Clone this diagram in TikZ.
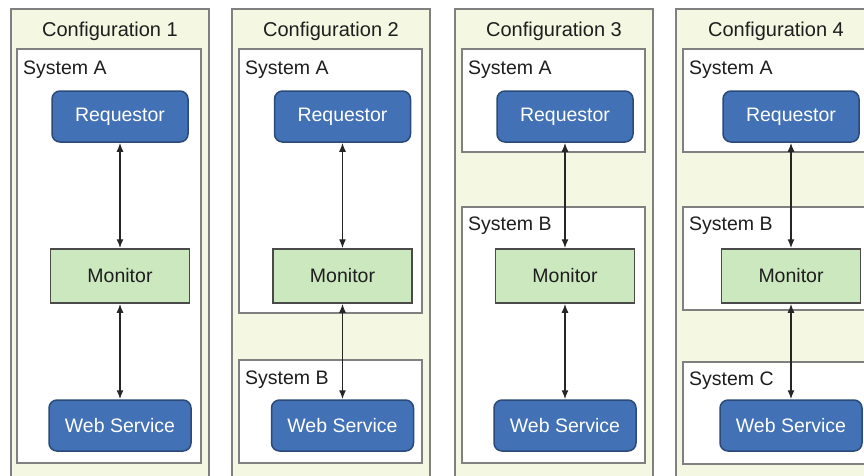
\documentclass[tikz,border=0pt]{standalone}
\usepackage{fontspec}
\setmainfont{Liberation Sans}
\usetikzlibrary{arrows.meta}
\definecolor{panelfill}{HTML}{F4F7E1}
\definecolor{framegray}{HTML}{808080}
\definecolor{reqblue}{HTML}{4271B6}
\definecolor{reqedge}{HTML}{2B4A78}
\definecolor{monfill}{HTML}{CBE8BF}
\definecolor{monedge}{HTML}{4A4A4A}
\definecolor{inktext}{HTML}{1E1E1E}
\tikzset{
  panel/.style={draw=framegray, fill=panelfill, line width=2pt},
  sysbox/.style={draw=framegray, fill=white, line width=2pt},
  paneltitle/.style={text=inktext, font=\fontsize{20}{24}\selectfont, inner sep=0pt},
  syslabel/.style={text=inktext, font=\fontsize{19.5}{24}\selectfont, anchor=north west, inner sep=0pt},
  bluebox/.style={draw=reqedge, fill=reqblue, line width=1.5pt, rounded corners=8pt,
    text=white, font=\fontsize{19.5}{24}\selectfont, inner sep=0pt, minimum height=51pt},
  requestor/.style={bluebox, minimum width=136pt},
  websvc/.style={bluebox, minimum width=142pt},
  monitorbox/.style={draw=monedge, fill=monfill, line width=1.5pt, text=inktext,
    font=\fontsize{19.5}{24}\selectfont, inner sep=0pt, minimum width=139pt, minimum height=54pt},
  link/.style={draw=black!85, line width=1.4pt,
    {Latex[length=9pt,width=7pt]}-{Latex[length=9pt,width=7pt]}}
}
\begin{document}
\begin{tikzpicture}[x=1pt,y=-1pt]
\useasboundingbox (0,0) rectangle (864,475);
\clip (0,0) rectangle (864,475);

% outer configuration panels
\draw[panel] (11,9) rectangle (209,490);
\draw[panel] (232,9) rectangle (430,490);
\draw[panel] (455,9) rectangle (653,490);
\draw[panel] (676,9) rectangle (876,490);

\node[paneltitle] (t1) at (110,31.5) {Configuration 1};
\node[paneltitle] (t2) at (331,31.5) {Configuration 2};
\node[paneltitle] (t3) at (554,31.5) {Configuration 3};
\node[paneltitle] (t4) at (776,31.5) {Configuration 4};

% configuration 1: everything on one system
\draw[sysbox] (17,49) rectangle (201,463);
\node[syslabel] (s1a) at (23,60.5) {System A};

% configuration 2: web service on its own system
\draw[sysbox] (239,49) rectangle (422,313);
\node[syslabel] (s2a) at (245,60.5) {System A};
\draw[sysbox] (239,360) rectangle (422,463);
\node[syslabel] (s2b) at (245,370.5) {System B};

% configuration 3: requestor on its own system
\draw[sysbox] (462,49) rectangle (645,152);
\node[syslabel] (s3a) at (468,60.5) {System A};
\draw[sysbox] (462,207) rectangle (645,463);
\node[syslabel] (s3b) at (468,216.5) {System B};

% configuration 4: three separate systems
\draw[sysbox] (683,49) rectangle (870,152);
\node[syslabel] (s4a) at (689,60.5) {System A};
\draw[sysbox] (683,207) rectangle (870,310);
\node[syslabel] (s4b) at (689,216.5) {System B};
\draw[sysbox] (683,362) rectangle (870,464);
\node[syslabel] (s4c) at (689,372) {System C};

% components
\foreach \i/\x in {1/120, 2/342.5, 3/565, 4/791} {
  \node[requestor] (r\i) at (\x,116.5) {Requestor};
  \node[monitorbox] (m\i) at (\x,276) {Monitor};
  \node[websvc] (w\i) at (\x,425.5) {Web Service};
  \draw[link] (r\i) -- (m\i);
  \draw[link] (m\i) -- (w\i);
}
\end{tikzpicture}
\end{document}
